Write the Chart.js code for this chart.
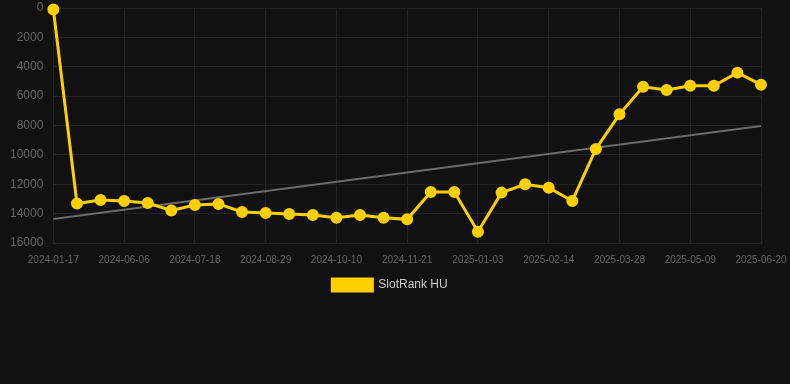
<!DOCTYPE html>
<html>
<head>
<meta charset="utf-8">
<script src="https://cdn.jsdelivr.net/npm/chart.js@4.4.1/dist/chart.umd.min.js"></script>
<style>
html,body{margin:0;padding:0;background:#111111;}
#wrap{width:790px;height:384px;}
</style>
</head>
<body>
<div id="wrap"><canvas id="c" width="790" height="384"></canvas></div>
<script>
const categories = [
  "2024-01-17","2024-05-09","2024-05-23","2024-06-06","2024-06-20","2024-07-04",
  "2024-07-18","2024-08-01","2024-08-15","2024-08-29","2024-09-12","2024-09-26",
  "2024-10-10","2024-10-24","2024-11-07","2024-11-21","2024-12-05","2024-12-19",
  "2025-01-03","2025-01-17","2025-01-31","2025-02-14","2025-02-28","2025-03-14",
  "2025-03-28","2025-04-11","2025-04-25","2025-05-09","2025-05-23","2025-06-06",
  "2025-06-20"
];
const rankValues = [
  100, 13310, 13070, 13140, 13280, 13790,
  13410, 13340, 13890, 13960, 14020, 14090,
  14280, 14090, 14280, 14390, 12530, 12530,
  15230, 12570, 12000, 12240, 13140, 9600,
  7240, 5360, 5580, 5290, 5290, 4400,
  5220
];
const trendStart = 14370;
const trendEnd = 8030;
const yTicks = { min: 0, max: 16000, step: 2000 };
const seriesName = "SlotRank HU";

const trendValues = categories.map((c, i) => i === 0 ? trendStart : (i === categories.length - 1 ? trendEnd : null));

const legendShift = {
  id: 'legendShift',
  afterLayout(chart) {
    const lg = chart.legend;
    if (lg) { lg.left -= 5; lg.right -= 5; lg.top -= 2; lg.bottom -= 2; }
  }
};

new Chart(document.getElementById('c'), {
  type: 'line',
  data: {
    labels: categories,
    datasets: [
      {
        label: seriesName,
        data: rankValues,
        borderColor: '#FFD000',
        backgroundColor: '#FFD000',
        borderWidth: 3,
        pointRadius: 4.5,
        pointHoverRadius: 4.5,
        pointBackgroundColor: '#FFD000',
        pointBorderColor: '#FFD000',
        tension: 0,
        clip: false,
        order: 1
      },
      {
        label: 'trend',
        data: trendValues,
        borderColor: '#6b6b6b',
        backgroundColor: '#6b6b6b',
        borderWidth: 2,
        pointRadius: 0,
        spanGaps: true,
        order: 2
      }
    ]
  },
  options: {
    responsive: false,
    animation: false,
    layout: { autoPadding: false, padding: { top: 0, right: 0, bottom: 81, left: 0 } },
    scales: {
      x: {
        offset: false,
        grid: { color: '#222222', drawTicks: false },
        border: { color: '#222222' },
        ticks: {
          color: '#666666',
          font: { family: 'Liberation Sans, Arial, sans-serif', size: 10 },
          maxRotation: 0,
          autoSkip: true,
          maxTicksLimit: 11,
          padding: 11
        },
        afterFit(scale) { scale.paddingRight = 29; }
      },
      y: {
        reverse: true,
        min: yTicks.min,
        max: yTicks.max,
        grid: { color: '#222222', drawTicks: false },
        border: { color: '#222222' },
        ticks: {
          stepSize: yTicks.step,
          color: '#666666',
          font: { family: 'Liberation Sans, Arial, sans-serif', size: 12 },
          padding: 10,
          callback: (v) => String(v)
        },
        afterFit(scale) { scale.paddingTop = 8; scale.paddingBottom = 8; }
      }
    },
    plugins: {
      legend: {
        position: 'bottom',
        labels: {
          color: '#cccccc',
          font: { family: 'Liberation Sans, Arial, sans-serif', size: 12 },
          boxWidth: 40,
          boxHeight: 12,
          padding: 4,
          filter: (item) => item.text !== 'trend'
        }
      },
      tooltip: { enabled: false }
    }
  },
  plugins: [legendShift]
});
</script>
</body>
</html>
